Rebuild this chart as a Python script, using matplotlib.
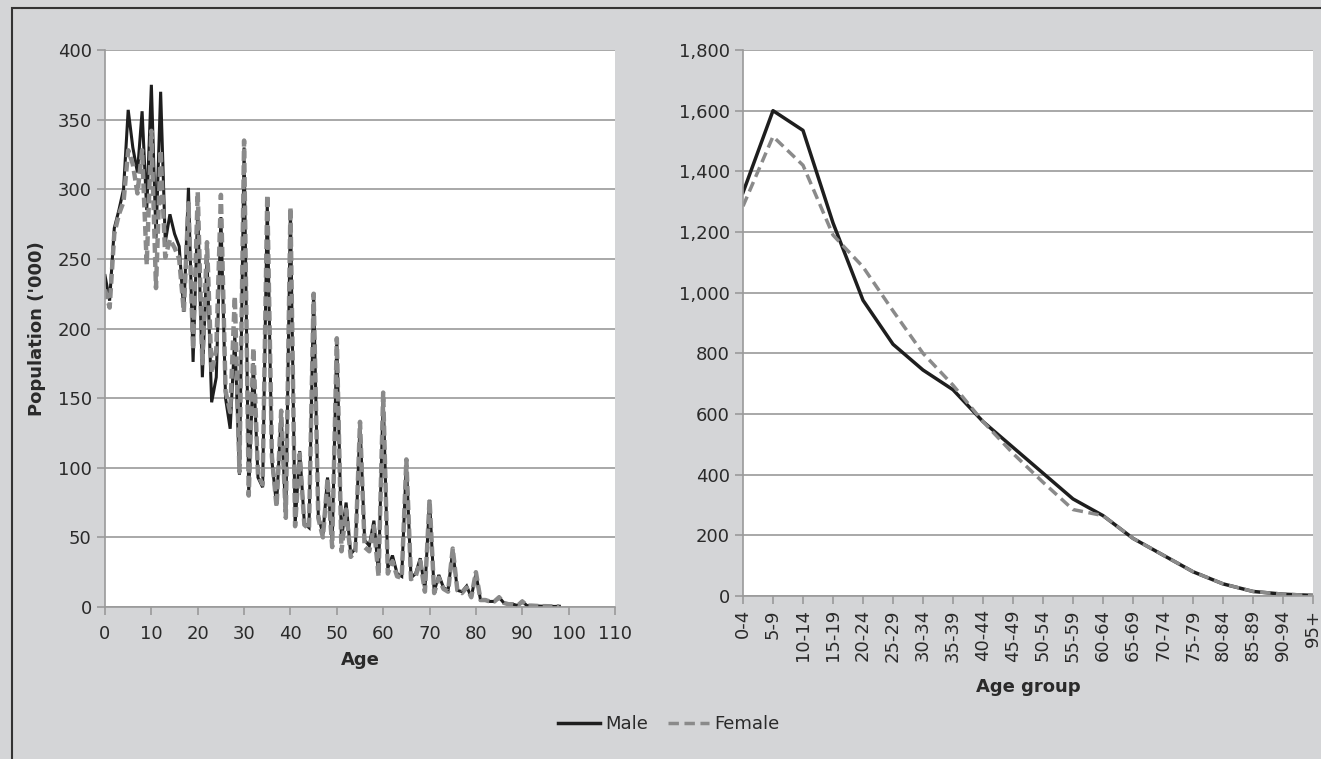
import numpy as np
import matplotlib.pyplot as plt
from matplotlib.patches import Rectangle
from matplotlib.ticker import FuncFormatter

# single-year ages (left panel)
ages = list(range(0, 99))
male_age = [238, 220, 272, 285, 300, 357, 330, 312, 356, 285,
            375, 265, 370, 262, 282, 268, 259, 212, 301, 176,
            285, 165, 250, 147, 165, 280, 150, 128, 195, 95,
            330, 82, 175, 93, 86, 290, 105, 73, 138, 65,
            285, 59, 112, 60, 57, 226, 66, 52, 93, 45,
            192, 48, 75, 38, 42, 132, 48, 44, 62, 24,
            152, 28, 37, 24, 22, 104, 21, 24, 35, 12,
            77, 11, 23, 14, 12, 41, 12, 11, 15, 7,
            24, 5, 5, 4, 4, 7, 3, 2, 2, 1,
            4, 1, 1, 0.8, 0.6, 0.6, 0.5, 0.4, 0.5]
female_age = [228, 215, 268, 282, 291, 328, 318, 297, 328, 246,
              342, 229, 328, 251, 264, 258, 250, 212, 290, 185,
              298, 175, 262, 168, 185, 296, 155, 140, 223, 97,
              335, 80, 186, 95, 88, 296, 108, 72, 141, 64,
              287, 58, 110, 59, 56, 225, 64, 50, 92, 43,
              193, 40, 70, 36, 40, 133, 43, 40, 58, 22,
              154, 24, 33, 22, 21, 106, 20, 22, 33, 11,
              77, 10, 21, 13, 11, 42, 12, 10, 14, 7,
              25, 5, 5, 4, 4, 7, 3, 2, 2, 1,
              4, 1, 1, 0.8, 0.6, 0.6, 0.5, 0.4, 0.5]

# five-year age groups (right panel)
groups = ['0-4', '5-9', '10-14', '15-19', '20-24', '25-29', '30-34', '35-39',
          '40-44', '45-49', '50-54', '55-59', '60-64', '65-69', '70-74',
          '75-79', '80-84', '85-89', '90-94', '95+']
male_grp = [1330, 1600, 1535, 1230, 975, 830, 745, 680, 575, 490,
            405, 320, 265, 190, 135, 80, 40, 15, 6, 2]
female_grp = [1285, 1515, 1420, 1190, 1085, 940, 800, 695, 575, 470,
              375, 285, 265, 190, 135, 80, 40, 15, 6, 2]

bg = '#d4d5d7'
grid_c = '#9a9a9a'
male_c = '#1e1e1e'
female_c = '#8a8a8a'
txt_c = '#2a2a2a'

plt.rcParams['font.family'] = ['DejaVu Sans']
plt.rcParams['font.size'] = 13

fig = plt.figure(figsize=(13.21, 7.59), dpi=100, facecolor=bg)
fig.patches.append(Rectangle((12/1321, -0.01), 1.02, 1 - 8/759 + 0.01,
                             transform=fig.transFigure, fill=False,
                             edgecolor='#333333', linewidth=1.5))

ax1 = fig.add_axes([105/1321, 1 - 607/759, 510/1321, 557/759])
ax2 = fig.add_axes([743/1321, 1 - 596/759, 570/1321, 546/759])

def style(ax):
    ax.set_facecolor('white')
    for s in ['top', 'right']:
        ax.spines[s].set_visible(False)
    for s in ['left', 'bottom']:
        ax.spines[s].set_color(grid_c)
        ax.spines[s].set_linewidth(1.2)
    ax.yaxis.grid(True, color=grid_c, linewidth=1.2)
    ax.set_axisbelow(True)
    ax.tick_params(axis='both', colors=grid_c, labelcolor=txt_c,
                   length=6, width=1.2, labelsize=13)

# left panel
style(ax1)
ax1.tick_params(axis='x', pad=7)
ax1.plot(ages, male_age, color=male_c, linewidth=2.2, solid_joinstyle='miter')
ax1.plot(ages, female_age, color=female_c, linewidth=3.2, dashes=(2.2, 1.0))
ax1.set_xlim(0, 110)
ax1.set_ylim(0, 400)
ax1.set_xticks(range(0, 111, 10))
ax1.set_yticks(range(0, 401, 50))
ax1.set_xlabel('Age', fontweight='bold', fontsize=13, color=txt_c, labelpad=6)
ax1.set_ylabel("Population ('000)", fontweight='bold', fontsize=13,
               color=txt_c, labelpad=8)

# right panel
style(ax2)
x = np.arange(len(groups))
l1, = ax2.plot(x, male_grp, color=male_c, linewidth=2.5, label='Male')
l2, = ax2.plot(x, female_grp, color=female_c, linewidth=2.5,
               dashes=(3, 1.6), label='Female')
ax2.set_xlim(0, len(groups) - 1)
ax2.set_ylim(0, 1800)
ax2.set_xticks(x)
ax2.set_xticklabels(groups, rotation=90)
ax2.set_yticks(range(0, 1801, 200))
ax2.yaxis.set_major_formatter(FuncFormatter(lambda v, p: f'{int(v):,}'))
ax2.set_xlabel('Age group', fontweight='bold', fontsize=13, color=txt_c,
               labelpad=12)

fig.legend(handles=[l1, l2], loc='center', ncol=2,
           bbox_to_anchor=(669/1321, 1 - 724/759), frameon=False,
           fontsize=13, handlelength=2.3, handletextpad=0.3,
           columnspacing=1.1, labelcolor=txt_c)

fig.savefig('out.png', dpi=100, facecolor=bg)
